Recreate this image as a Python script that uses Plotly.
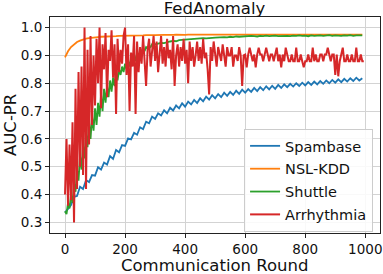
import plotly.graph_objects as go

# ---------------- data ----------------
spambase_x = list(range(0, 1000, 10))
spambase_y = [
    0.335, 0.350, 0.362, 0.392, 0.395, 0.428, 0.420, 0.452, 0.445, 0.470,
    0.468, 0.498, 0.490, 0.515, 0.508, 0.538, 0.528, 0.560, 0.552, 0.578,
    0.575, 0.602, 0.598, 0.622, 0.615, 0.642, 0.635, 0.662, 0.656, 0.680,
    0.672, 0.692, 0.684, 0.703, 0.692, 0.712, 0.702, 0.720, 0.710, 0.728,
    0.716, 0.734, 0.724, 0.740, 0.729, 0.746, 0.735, 0.752, 0.741, 0.757,
    0.746, 0.761, 0.750, 0.766, 0.755, 0.769, 0.758, 0.773, 0.762, 0.777,
    0.766, 0.779, 0.769, 0.783, 0.772, 0.786, 0.775, 0.789, 0.778, 0.791,
    0.780, 0.794, 0.783, 0.796, 0.786, 0.798, 0.788, 0.800, 0.790, 0.802,
    0.792, 0.804, 0.794, 0.806, 0.796, 0.808, 0.798, 0.810, 0.800, 0.812,
    0.802, 0.814, 0.804, 0.816, 0.806, 0.818, 0.808, 0.820, 0.810, 0.818,
]

nslkdd_x = list(range(0, 1000, 10))
nslkdd_y = [
    0.893, 0.915, 0.930, 0.940, 0.948, 0.953, 0.957, 0.960, 0.962, 0.964,
    0.965, 0.966, 0.967, 0.967, 0.968, 0.968, 0.969, 0.969, 0.970, 0.970,
    0.970, 0.971, 0.971, 0.971, 0.972, 0.972, 0.972, 0.973, 0.972, 0.973,
    0.973, 0.974, 0.973, 0.974, 0.974, 0.973, 0.974, 0.975, 0.974, 0.975,
    0.974, 0.975, 0.975, 0.974, 0.975, 0.976, 0.975, 0.974, 0.975, 0.976,
    0.975, 0.975, 0.976, 0.975, 0.974, 0.975, 0.976, 0.975, 0.975, 0.976,
    0.975, 0.974, 0.975, 0.976, 0.975, 0.975, 0.976, 0.975, 0.974, 0.975,
    0.976, 0.975, 0.975, 0.976, 0.975, 0.974, 0.975, 0.976, 0.975, 0.975,
    0.976, 0.975, 0.974, 0.975, 0.976, 0.975, 0.975, 0.976, 0.975, 0.974,
    0.975, 0.976, 0.975, 0.975, 0.976, 0.975, 0.974, 0.975, 0.976, 0.975,
]

shuttle_x = list(range(0, 300, 5)) + list(range(300, 1000, 10))
shuttle_y = [
    # rounds 0-295, step 5
    0.34, 0.33, 0.37, 0.35, 0.40, 0.37, 0.44, 0.41, 0.49, 0.45,
    0.54, 0.49, 0.58, 0.53, 0.62, 0.57, 0.66, 0.60, 0.68, 0.63,
    0.71, 0.65, 0.73, 0.68, 0.76, 0.70, 0.78, 0.73, 0.79, 0.75,
    0.81, 0.77, 0.82, 0.79, 0.84, 0.81, 0.85, 0.83, 0.86, 0.84,
    0.87, 0.85, 0.88, 0.86, 0.89, 0.87, 0.90, 0.88, 0.91, 0.89,
    0.915, 0.905, 0.925, 0.915, 0.93, 0.925, 0.935, 0.93, 0.94, 0.935,
    # rounds 300-990, step 10
    0.940, 0.942, 0.945, 0.944, 0.948, 0.950, 0.952, 0.951, 0.955, 0.956,
    0.957, 0.958, 0.958, 0.960, 0.959, 0.961, 0.962, 0.961, 0.963, 0.963,
    0.964, 0.965, 0.964, 0.966, 0.965, 0.967, 0.966, 0.968, 0.967, 0.968,
    0.969, 0.968, 0.970, 0.969, 0.968, 0.970, 0.969, 0.971, 0.969, 0.970,
    0.971, 0.969, 0.970, 0.971, 0.970, 0.969, 0.971, 0.970, 0.972, 0.970,
    0.971, 0.969, 0.972, 0.970, 0.971, 0.972, 0.970, 0.971, 0.973, 0.970,
    0.972, 0.971, 0.970, 0.972, 0.971, 0.973, 0.970, 0.972, 0.971, 0.972,
]

arrhythmia_x = list(range(0, 1000, 5))
arrhythmia_y = [
    0.40, 0.60, 0.36, 0.58, 0.38, 0.66, 0.30, 0.78, 0.42, 0.84,
    0.50, 0.86, 0.47, 1.00, 0.42, 0.92, 0.58, 0.97, 0.65, 0.90,
    0.72, 0.96, 0.80, 1.00, 0.71, 0.94, 0.85, 0.98, 0.75, 0.92,
    0.88, 0.99, 0.82, 0.94, 0.69, 0.96, 0.84, 0.92, 0.87, 0.97,
    1.00, 0.83, 0.94, 0.70, 0.91, 0.86, 0.97, 0.69, 0.95, 0.84,
    0.93, 0.87, 0.97, 0.85, 0.79, 0.92, 0.96, 0.86, 0.93, 0.97,
    0.88, 0.95, 0.84, 0.91, 0.97, 0.87, 0.93, 0.86, 0.96, 0.89,
    0.92, 0.85, 0.97, 0.79, 0.90, 0.94, 0.86, 0.93, 0.88, 0.96,
    0.87, 0.92, 0.80, 0.95, 0.88, 0.93, 0.86, 0.90, 0.95, 0.88,
    0.93, 0.87, 0.96, 0.89, 0.91, 0.85, 0.76, 0.93, 0.88, 0.95,
    0.90, 0.86, 0.93, 0.90, 0.88, 0.94, 0.90, 0.86, 0.93, 0.90,
    0.90, 0.93, 0.86, 0.90, 0.90, 0.88, 0.93, 0.90, 0.79, 0.90,
    0.903, 0.857, 0.903, 0.928, 0.903, 0.879, 0.903, 0.857, 0.903, 0.928,
    0.903, 0.903, 0.879, 0.903, 0.928, 0.903, 0.879, 0.903, 0.903, 0.879,
    0.903, 0.928, 0.879, 0.903, 0.857, 0.903, 0.879, 0.928, 0.903, 0.879,
    0.879, 0.903, 0.879, 0.879, 0.928, 0.879, 0.879, 0.903, 0.879, 0.857,
    0.879, 0.879, 0.903, 0.879, 0.879, 0.928, 0.879, 0.903, 0.879, 0.879,
    0.903, 0.903, 0.879, 0.903, 0.903, 0.928, 0.903, 0.879, 0.903, 0.903,
    0.830, 0.903, 0.825, 0.879, 0.903, 0.928, 0.879, 0.879, 0.903, 0.879,
    0.879, 0.903, 0.879, 0.879, 0.928, 0.879, 0.879, 0.903, 0.879, 0.879,
]

series_names = ["Spambase", "NSL-KDD", "Shuttle", "Arrhythmia"]
series_colors = ["#1f77b4", "#ff7f0e", "#2ca02c", "#d62728"]

x_ticks = [0, 200, 400, 600, 800, 1000]
y_ticks = [0.3, 0.4, 0.5, 0.6, 0.7, 0.8, 0.9, 1.0]

# ---------------- figure ----------------
FONT = "DejaVu Sans"
fig = go.Figure()
all_x = [spambase_x, nslkdd_x, shuttle_x, arrhythmia_x]
all_y = [spambase_y, nslkdd_y, shuttle_y, arrhythmia_y]
for i, (name, color) in enumerate(zip(series_names, series_colors)):
    fig.add_trace(go.Scatter(
        x=all_x[i], y=all_y[i], mode="lines", name=name,
        line=dict(color=color, width=2.0 if name == "Arrhythmia" else 1.8),
        legendgroup=name,
    ))

axis_common = dict(
    showgrid=True, gridcolor="#d3d3d3", gridwidth=1,
    showline=True, linecolor="#222222", linewidth=1, mirror=True,
    ticks="outside", ticklen=4, tickcolor="#222222", tickwidth=1,
    tickfont=dict(family=FONT, size=13.5, color="#111111"),
    zeroline=False, automargin=False, ticklabeloverflow="allow",
)

fig.update_layout(
    width=383, height=274,
    margin=dict(l=50, r=3, t=17, b=41, autoexpand=False),
    paper_bgcolor="white", plot_bgcolor="white",
    font=dict(family=FONT, color="#111111"),
    title=dict(text="FedAnomaly", x=0.56, xanchor="center",
               y=1 - 8.5 / 274, yanchor="middle",
               font=dict(family=FONT, size=16.5, color="#111111")),
    xaxis=dict(range=[-50, 1049], tickvals=x_ticks, **axis_common),
    yaxis=dict(range=[0.262, 1.038], tickvals=y_ticks, tickformat=".1f", **axis_common),
    showlegend=True,
    legend=dict(
        x=0.979, y=0.005, xanchor="right", yanchor="bottom",
        bgcolor="rgba(255,255,255,0.85)", bordercolor="#cccccc", borderwidth=1,
        font=dict(family=FONT, size=14.5, color="#111111"),
        tracegroupgap=1, itemwidth=30,
    ),
    annotations=[
        dict(text="Communication Round", xref="paper", yref="paper",
             x=0.5, y=-(265 - 233) / 216, xanchor="center", yanchor="middle",
             showarrow=False, font=dict(family=FONT, size=16.5, color="#111111")),
        dict(text="AUC-PR", xref="paper", yref="paper",
             x=-(50 - 10) / 330, y=0.5, xanchor="center", yanchor="middle", textangle=-90,
             showarrow=False, font=dict(family=FONT, size=16.5, color="#111111")),
    ],
)

fig.write_html("out.html", config={"displayModeBar": False},
               post_script="document.body.style.margin='0';document.body.style.overflow='hidden';")
